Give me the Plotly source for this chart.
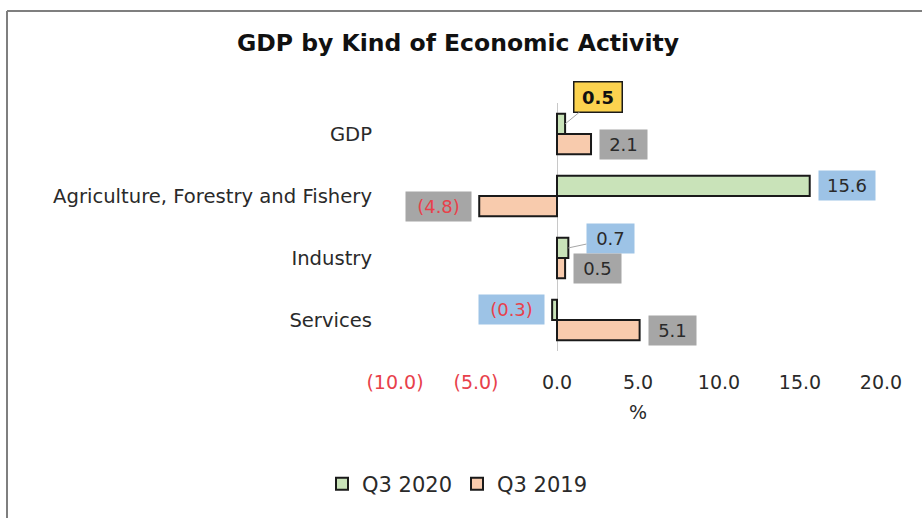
import plotly.graph_objects as go

categories = ["GDP", "Agriculture, Forestry and Fishery", "Industry", "Services"]
q3_2020 = [0.5, 15.6, 0.7, -0.3]
q3_2019 = [2.1, -4.8, 0.5, 5.1]
tick_vals = [-10, -5, 0, 5, 10, 15, 20]
tick_text = ["(10.0)", "(5.0)", "0.0", "5.0", "10.0", "15.0", "20.0"]

W, H = 922, 518
L, R, T, B = 395, 41, 103, 167
PW, PH = W - L - R, H - T - B

def fmt(v):
    return f"({abs(v):.1f})" if v < 0 else f"{v:.1f}"

RED = "#e8414b"
DARK = "#2a2a2a"
FONT = "DejaVu Sans"

fig = go.Figure()
fig.add_trace(go.Bar(name="Q3 2020", y=categories, x=q3_2020, orientation="h",
                     marker=dict(color="#c9e3b9", line=dict(color="#1a1a1a", width=2))))
fig.add_trace(go.Bar(name="Q3 2019", y=categories, x=q3_2019, orientation="h",
                     marker=dict(color="#f8cbad", line=dict(color="#1a1a1a", width=2))))

bargap = 0.35
off = (1 - bargap) / 4

bg2020 = ["#fcd34f", "#9dc3e6", "#9dc3e6", "#9dc3e6"]
bg2019 = ["#a6a6a6", "#a6a6a6", "#a6a6a6", "#a6a6a6"]
arrow2020 = [(33, -27), None, (42, -9), None]

annotations = []
for series, bgs, sign, arrows in [(q3_2020, bg2020, -1, arrow2020), (q3_2019, bg2019, 1, [None] * 4)]:
    for i, v in enumerate(series):
        txt = fmt(v)
        yy = i + sign * off
        color = RED if v < 0 else DARK
        bold = (series is q3_2020 and i == 0)
        a = dict(x=v, y=yy, xref="x", yref="y", text=f"<b>{txt}</b>" if bold else txt,
                 font=dict(family=FONT, size=18, color="#111111" if bold else color),
                 bgcolor=bgs[i], borderpad=4, width=len(txt) * 9 + 12,
                 align="center")
        if bold:
            a.update(bordercolor="#1a1a1a", borderwidth=1.5)
        arr = arrows[i]
        if arr is not None:
            a.update(showarrow=True, ax=arr[0], ay=arr[1], arrowhead=0,
                     arrowwidth=1, arrowcolor="#a6a6a6", standoff=0, startstandoff=0)
        else:
            a.update(showarrow=False, xanchor="right" if v < 0 else "left",
                     xshift=-7 if v < 0 else 8)
        annotations.append(a)

def px_x(p):
    return (p - L) / PW

def px_y(p):
    return (H - B - p) / PH

shapes = [
    dict(type="line", xref="paper", yref="paper", x0=px_x(7), x1=px_x(930), y0=px_y(11), y1=px_y(11),
         line=dict(color="#7f7f7f", width=2)),
    dict(type="line", xref="paper", yref="paper", x0=px_x(7), x1=px_x(7), y0=px_y(11), y1=px_y(530),
         line=dict(color="#7f7f7f", width=2)),
]

ticktext_colored = [f'<span style="color:{RED}">{t}</span>' if v < 0 else t
                    for v, t in zip(tick_vals, tick_text)]

fig.update_layout(
    width=W, height=H,
    margin=dict(l=L, r=R, t=T, b=B, autoexpand=False),
    paper_bgcolor="white", plot_bgcolor="white",
    barmode="group", bargap=bargap, bargroupgap=0,
    title=dict(text="<b>GDP by Kind of Economic Activity</b>", x=458 / W, xanchor="center",
               y=1 - 43 / H, yanchor="middle", font=dict(family=FONT, size=23.5, color="#111111")),
    font=dict(family=FONT, size=19, color=DARK),
    xaxis=dict(range=[-10, 20], tickvals=tick_vals, ticktext=ticktext_colored,
               showgrid=False, zeroline=True, zerolinecolor="#c8c8c8", zerolinewidth=1,
               showline=False, ticks="", ticklabelstandoff=18,
               tickfont=dict(family=FONT, size=19, color=DARK),
               title=dict(text="%", standoff=13, font=dict(family=FONT, size=19, color=DARK))),
    yaxis=dict(autorange="reversed", showgrid=False, showline=False, ticks="",
               ticklabelstandoff=22, tickfont=dict(family=FONT, size=19.6, color=DARK)),
    legend=dict(orientation="h", x=px_x(322), xanchor="left", y=px_y(484), yanchor="middle",
                font=dict(family=FONT, size=21, color=DARK), itemwidth=30, traceorder="normal"),
    annotations=annotations,
    shapes=shapes,
    showlegend=True,
)

fig.write_html("out.html", config={"displayModeBar": False},
               post_script="document.body.style.margin='0';")
